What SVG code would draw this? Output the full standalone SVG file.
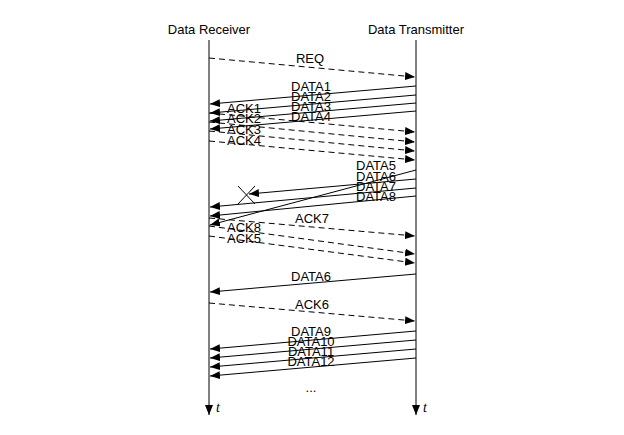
<svg xmlns="http://www.w3.org/2000/svg" width="624" height="435" viewBox="0 0 624 435">
<defs>
<marker id="ah" markerUnits="userSpaceOnUse" markerWidth="11" markerHeight="9" refX="10" refY="4" orient="auto">
<path d="M0,0 L10,4 L0,8 z" fill="#000"/>
</marker>
<style>
text{font-family:"Liberation Sans",Arial,sans-serif;font-size:13px;fill:#000;text-anchor:middle}
.t{font-family:"Liberation Serif","Times New Roman",serif;font-style:italic;font-size:14px;text-anchor:start}
.s{stroke:#000;stroke-width:1;fill:none;marker-end:url(#ah)}
.d{stroke:#000;stroke-width:1;fill:none;stroke-dasharray:6,4;marker-end:url(#ah)}
</style>
</defs>
<rect width="624" height="435" fill="#fff"/>
<g id="receiver">
<text x="209" y="34">Data Receiver</text>
<line class="s" x1="209" y1="40" x2="209" y2="415"/>
<text class="t" x="216" y="412">t</text>
</g>
<g id="transmitter">
<text x="416" y="34">Data Transmitter</text>
<line class="s" x1="416" y1="40" x2="416" y2="415"/>
<text class="t" x="423" y="412">t</text>
</g>
<g id="connectors">
<line class="d" x1="209" y1="58" x2="415" y2="77"/>
<line class="s" x1="416" y1="86" x2="210" y2="104"/>
<line class="s" x1="416" y1="95" x2="210" y2="113"/>
<line class="s" x1="416" y1="103" x2="210" y2="121"/>
<line class="s" x1="416" y1="111" x2="210" y2="129"/>
<line class="d" x1="209" y1="113" x2="415" y2="132"/>
<line class="d" x1="209" y1="122" x2="415" y2="142"/>
<line class="d" x1="209" y1="131" x2="415" y2="151"/>
<line class="d" x1="209" y1="141" x2="415" y2="160"/>
<line class="s" x1="416" y1="170" x2="210" y2="225"/>
<line class="s" x1="416" y1="179" x2="249" y2="194"/>
<line class="s" x1="416" y1="188" x2="210" y2="207"/>
<line class="s" x1="416" y1="196" x2="210" y2="216"/>
<line stroke="#000" x1="238" y1="186" x2="255" y2="204"/>
<line stroke="#000" x1="238" y1="204" x2="255" y2="186"/>
<line class="d" x1="209" y1="218" x2="415" y2="236"/>
<line class="d" x1="209" y1="226" x2="415" y2="254"/>
<line class="d" x1="209" y1="236" x2="415" y2="263"/>
<line class="s" x1="416" y1="274" x2="210" y2="292"/>
<line class="d" x1="209" y1="303" x2="415" y2="321"/>
<line class="s" x1="416" y1="331" x2="210" y2="349"/>
<line class="s" x1="416" y1="340" x2="210" y2="358"/>
<line class="s" x1="416" y1="349" x2="210" y2="367"/>
<line class="s" x1="416" y1="358" x2="210" y2="376"/>
</g>
<g id="labels">
<text x="310" y="63">REQ</text>
<text x="311" y="91">DATA1</text>
<text x="311" y="101">DATA2</text>
<text x="311" y="111">DATA3</text>
<text x="311" y="121">DATA4</text>
<text x="244" y="113">ACK1</text>
<text x="244" y="123">ACK2</text>
<text x="244" y="134">ACK3</text>
<text x="244" y="145">ACK4</text>
<text x="376" y="170">DATA5</text>
<text x="376" y="181">DATA6</text>
<text x="376" y="191">DATA7</text>
<text x="376" y="201">DATA8</text>
<text x="312" y="223">ACK7</text>
<text x="244" y="232">ACK8</text>
<text x="244" y="243">ACK5</text>
<text x="311" y="281">DATA6</text>
<text x="312" y="309">ACK6</text>
<text x="311" y="336">DATA9</text>
<text x="311" y="346">DATA10</text>
<text x="311" y="356">DATA11</text>
<text x="311" y="366">DATA12</text>
<text x="311" y="392">...</text>
</g>
</svg>
